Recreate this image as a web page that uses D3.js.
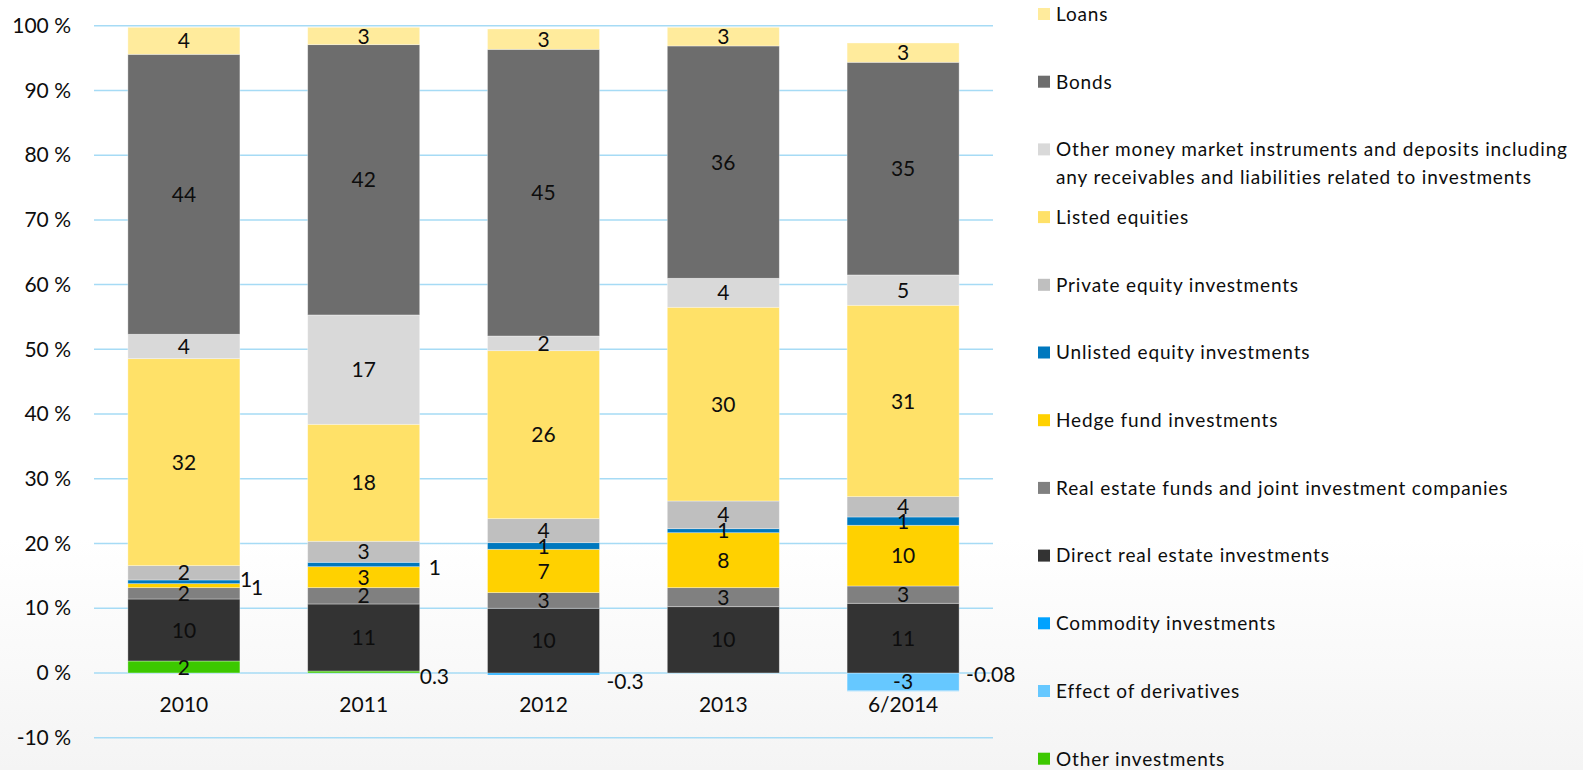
<!DOCTYPE html>
<html lang="en">

<head>
    <meta charset="UTF-8">
    <title>Investment allocation</title>
    <script src="https://d3js.org/d3.v7.min.js"></script>
    <style>
        body { margin: 0; background: #fff; }
        text { font-family: Lato, "Open Sans", sans-serif; fill: #0d0d0d; }
    </style>
</head>

<body>
    <div id="my_dataviz"></div>
    <script>

        // categories on the x axis
        const categories = ["2010", "2011", "2012", "2013", "6/2014"];

        // series values (% of investments), bottom of stack first
        const otherInvestments = [1.85, 0.3, 0, 0, 0];
        const derivatives = [0, 0, 0, 0, -2.73];
        const commodity = [0, 0, -0.3, 0, -0.08];
        const directRealEstate = [9.58, 10.36, 10.0, 10.24, 10.77];
        const realEstateFunds = [1.75, 2.52, 2.41, 2.94, 2.67];
        const hedgeFunds = [0.62, 3.24, 6.7, 8.49, 9.38];
        const unlistedEquity = [0.57, 0.68, 1.02, 0.62, 1.28];
        const privateEquity = [2.21, 3.25, 3.71, 4.28, 3.14];
        const listedEquities = [31.98, 18.07, 25.95, 29.93, 29.57];
        const moneyMarket = [3.77, 16.89, 2.27, 4.48, 4.68];
        const bonds = [43.25, 41.76, 44.29, 35.89, 32.86];
        const loans = [4.17, 2.68, 3.14, 2.88, 2.98];

        // data labels as printed on the chart
        const otherInvestmentsLabels = [2, 0.3, null, null, null];
        const derivativesLabels = [null, null, null, null, -3];
        const commodityLabels = [null, null, -0.3, null, -0.08];
        const directRealEstateLabels = [10, 11, 10, 10, 11];
        const realEstateFundsLabels = [2, 2, 3, 3, 3];
        const hedgeFundsLabels = [1, 3, 7, 8, 10];
        const unlistedEquityLabels = [1, 1, 1, 1, 1];
        const privateEquityLabels = [2, 3, 4, 4, 4];
        const listedEquitiesLabels = [32, 18, 26, 30, 31];
        const moneyMarketLabels = [4, 17, 2, 4, 5];
        const bondsLabels = [44, 42, 45, 36, 35];
        const loansLabels = [4, 3, 3, 3, 3];

        const yTicks = [-10, 0, 10, 20, 30, 40, 50, 60, 70, 80, 90, 100];

        // series table built from the arrays above
        const series = [
            { key: "Other investments", color: "#3cc800", values: otherInvestments, labels: otherInvestmentsLabels },
            { key: "Effect of derivatives", color: "#66c8ff", values: derivatives, labels: derivativesLabels },
            { key: "Commodity investments", color: "#00a2ff", values: commodity, labels: commodityLabels },
            { key: "Direct real estate investments", color: "#333333", values: directRealEstate, labels: directRealEstateLabels },
            { key: "Real estate funds and joint investment companies", color: "#808080", values: realEstateFunds, labels: realEstateFundsLabels },
            { key: "Hedge fund investments", color: "#ffd100", values: hedgeFunds, labels: hedgeFundsLabels },
            { key: "Unlisted equity investments", color: "#0078be", values: unlistedEquity, labels: unlistedEquityLabels },
            { key: "Private equity investments", color: "#bfbfbf", values: privateEquity, labels: privateEquityLabels },
            { key: "Listed equities", color: "#ffe168", values: listedEquities, labels: listedEquitiesLabels },
            { key: "Other money market instruments and deposits including|any receivables and liabilities related to investments", color: "#d9d9d9", values: moneyMarket, labels: moneyMarketLabels },
            { key: "Bonds", color: "#6d6d6d", values: bonds, labels: bondsLabels },
            { key: "Loans", color: "#ffeb9c", values: loans, labels: loansLabels }
        ];

        // labels that were moved off their segment (offset from bar right edge / segment centre)
        const movedLabels = {
            "Unlisted equity investments|2010": { dx: 0, dy: -2 },
            "Hedge fund investments|2010": { dx: 11, dy: 2 },
            "Unlisted equity investments|2011": { dx: 9, dy: 2.5 },
            "Other investments|2011": { dx: 0, dy: 4 },
            "Commodity investments|2012": { dx: 7, dy: 7 },
            "Commodity investments|6/2014": { dx: 7, dy: -16 }
        };

        const width = 1583, height = 770;
        const plot = { left: 94, right: 993, top: 25.7, bottom: 737.7 };

        const svg = d3.select("#my_dataviz")
            .append("svg")
            .attr("width", width)
            .attr("height", height);

        // soft grey fade at the bottom of the slide
        const grad = svg.append("defs").append("linearGradient")
            .attr("id", "bg").attr("x1", 0).attr("y1", 0).attr("x2", 0).attr("y2", 1);
        grad.append("stop").attr("offset", "0.7").attr("stop-color", "#ffffff");
        grad.append("stop").attr("offset", "1").attr("stop-color", "#f4f4f4");
        svg.append("rect").attr("width", width).attr("height", height).attr("fill", "url(#bg)");

        const x = d3.scaleBand()
            .domain(categories)
            .range([plot.left, plot.right])
            .paddingInner(0.377)
            .paddingOuter(0.1885);

        const y = d3.scaleLinear()
            .domain([-10, 100])
            .range([plot.bottom, plot.top]);

        // gridlines
        svg.append("g")
            .selectAll("line")
            .data(yTicks)
            .join("line")
            .attr("x1", plot.left)
            .attr("x2", plot.right)
            .attr("y1", d => y(d))
            .attr("y2", d => y(d))
            .attr("stroke", "#a6dbf5")
            .attr("stroke-width", 1.5);

        // y axis labels
        const yAxis = svg.append("g")
            .attr("transform", "translate(71,0)")
            .call(d3.axisLeft(y).tickValues(yTicks).tickFormat(d => d + " %").tickSize(0).tickPadding(0));
        yAxis.select(".domain").remove();
        yAxis.selectAll("text").style("font-size", "21px").attr("fill", "#0d0d0d");

        // x axis labels
        const xAxis = svg.append("g")
            .attr("transform", "translate(0,697)")
            .call(d3.axisBottom(x).tickSize(0).tickPadding(0));
        xAxis.select(".domain").remove();
        xAxis.selectAll("text").style("font-size", "21px").attr("fill", "#0d0d0d");

        // stack the data
        const rows = categories.map((c, i) => {
            const row = { category: c };
            series.forEach(s => { row[s.key] = s.values[i]; });
            return row;
        });
        const stacked = d3.stack()
            .keys(series.map(s => s.key))
            .offset(d3.stackOffsetDiverging)(rows);

        const layers = svg.append("g")
            .selectAll("g")
            .data(stacked)
            .join("g")
            .attr("fill", (d, i) => series[i].color);

        layers.selectAll("rect")
            .data(d => d.filter(p => p[1] - p[0] !== 0))
            .join("rect")
            .attr("x", d => x(d.data.category))
            .attr("width", x.bandwidth())
            .attr("y", d => y(Math.max(d[0], d[1])))
            .attr("height", d => Math.abs(y(d[0]) - y(d[1])))
            .attr("stroke", "rgba(255,255,255,0.45)")
            .attr("stroke-width", 0.75);

        // data labels
        const labelData = [];
        stacked.forEach((layer, si) => {
            layer.forEach((p, ci) => {
                const lab = series[si].labels[ci];
                if (lab === null) return;
                const cat = categories[ci];
                const cy = y((p[0] + p[1]) / 2);
                const moved = movedLabels[series[si].key + "|" + cat];
                if (moved) {
                    labelData.push({ text: lab, x: x(cat) + x.bandwidth() + moved.dx, y: cy + moved.dy, anchor: "start" });
                } else {
                    labelData.push({ text: lab, x: x(cat) + x.bandwidth() / 2, y: cy, anchor: "middle" });
                }
            });
        });

        svg.append("g")
            .selectAll("text")
            .data(labelData)
            .join("text")
            .attr("x", d => d.x)
            .attr("y", d => d.y)
            .attr("dy", "0.36em")
            .attr("text-anchor", d => d.anchor)
            .style("font-size", "21px")
            .text(d => d.text);

        // legend, top to bottom
        const legend = svg.append("g")
            .selectAll("g")
            .data(series.slice().reverse())
            .join("g")
            .attr("transform", (d, i) => `translate(1038, ${14 + i * 67.7})`);

        legend.append("rect")
            .attr("x", 0)
            .attr("y", -6)
            .attr("width", 12)
            .attr("height", 12)
            .attr("fill", d => d.color);

        legend.append("text")
            .attr("x", 18)
            .style("font-size", "19px")
            .style("letter-spacing", "0.85px")
            .selectAll("tspan")
            .data(d => d.key.split("|"))
            .join("tspan")
            .attr("x", 18)
            .attr("y", (d, i) => i * 28)
            .attr("dy", "0.36em")
            .text(d => d);
    </script>
</body>

</html>
